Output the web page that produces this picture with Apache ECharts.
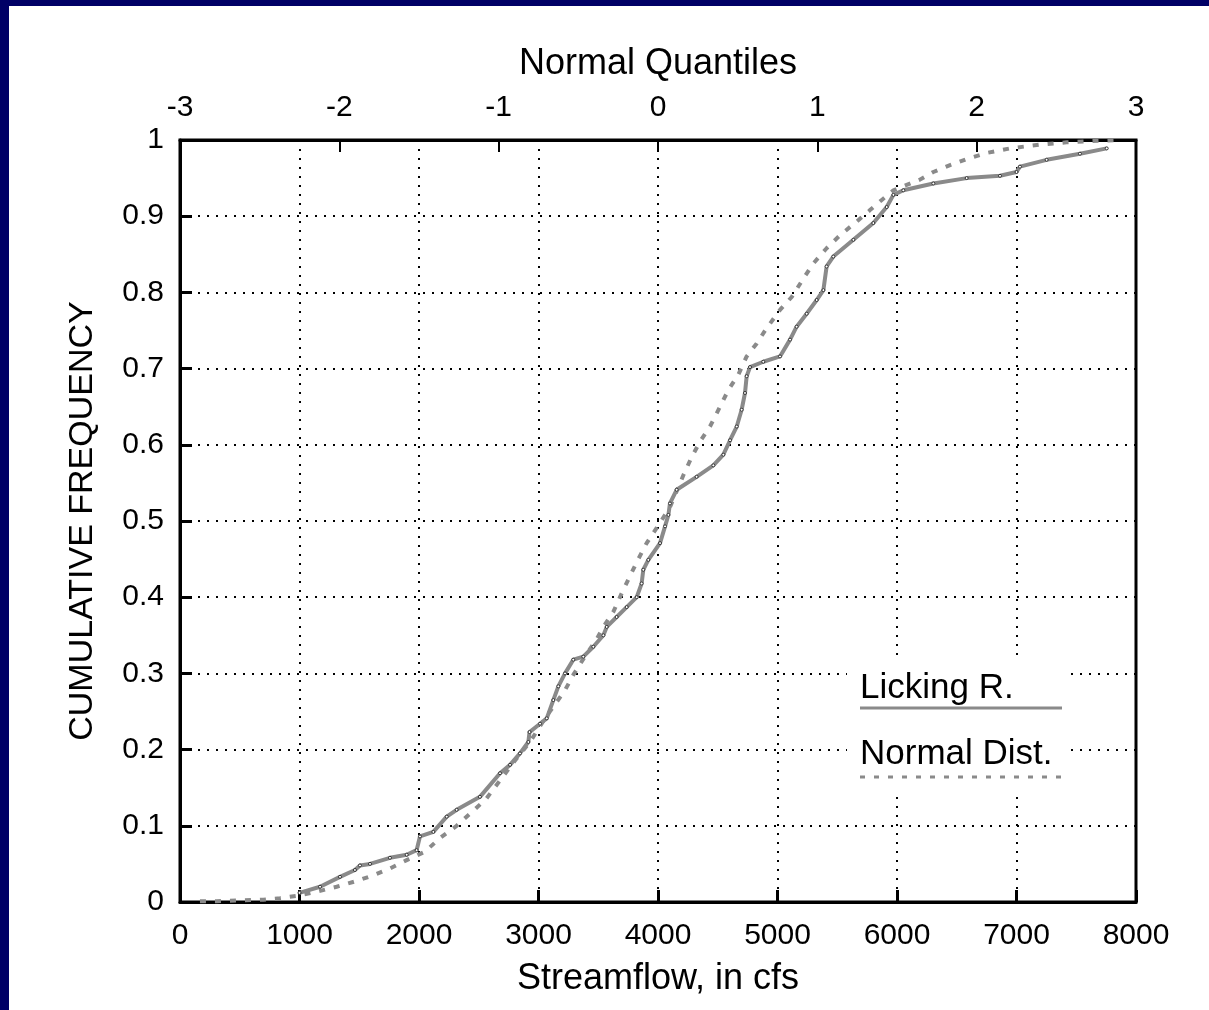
<!DOCTYPE html>
<html>
<head>
<meta charset="utf-8">
<script src="https://cdn.jsdelivr.net/npm/echarts@6/dist/echarts.min.js"></script>
<style>
html,body{margin:0;padding:0;background:#000066;width:1209px;height:1010px;overflow:hidden;}
#chart{position:absolute;left:9px;top:6px;width:1200px;height:1004px;background:#ffffff;}
</style>
</head>
<body>
<div id="chart"></div>
<script>
// ---- data ----
const xTickLabels = ['0','1000','2000','3000','4000','5000','6000','7000','8000'];
const yTickLabels = ['0','0.1','0.2','0.3','0.4','0.5','0.6','0.7','0.8','0.9','1'];
const quantileTickLabels = ['-3','-2','-1','0','1','2','3'];

const seriesNames = ['Licking R.', 'Normal Dist.'];

const lickingFlow = [1000,1172,1339,1464,1506,1590,1757,1897,1980,2008,2120,2232,2315,2510,2678,2762,2845,2915,2925,3013,3069,3124,3166,3222,3291,3375,3459,3543,3571,3654,3738,3822,3863,3877,3919,4017,4059,4087,4100,4156,4323,4463,4547,4603,4659,4700,4728,4742,4770,4881,5021,5105,5160,5244,5328,5384,5411,5467,5635,5802,5914,5970,6053,6304,6583,6862,7000,7029,7252,7531,7755];
const lickingFreq = [0.012,0.02,0.033,0.042,0.048,0.05,0.058,0.062,0.068,0.086,0.092,0.112,0.121,0.138,0.169,0.18,0.195,0.21,0.223,0.234,0.241,0.265,0.283,0.30,0.318,0.322,0.335,0.35,0.361,0.374,0.387,0.40,0.418,0.436,0.449,0.471,0.493,0.508,0.523,0.541,0.558,0.573,0.587,0.606,0.624,0.646,0.668,0.69,0.702,0.709,0.716,0.738,0.755,0.772,0.79,0.803,0.834,0.847,0.869,0.891,0.912,0.928,0.934,0.943,0.95,0.953,0.958,0.965,0.974,0.982,0.989];

const normalFlow = [167,307,502,697,837,976,1144,1311,1464,1618,1757,1897,2050,2176,2315,2427,2560,2680,2800,2929,3050,3150,3222,3291,3400,3480,3543,3627,3696,3766,3835,3905,3989,4100,4212,4282,4351,4435,4519,4589,4672,4742,4826,4909,5021,5119,5216,5300,5411,5523,5663,5774,5870,5970,6192,6304,6444,6583,6751,6946,7197,7420,7699,7866];
const normalFreq = [0.001,0.001,0.002,0.003,0.005,0.008,0.0135,0.02,0.027,0.035,0.044,0.055,0.066,0.084,0.1,0.116,0.135,0.16,0.185,0.21,0.24,0.262,0.278,0.298,0.325,0.343,0.361,0.381,0.405,0.428,0.45,0.471,0.491,0.518,0.56,0.584,0.604,0.624,0.65,0.672,0.692,0.716,0.733,0.753,0.777,0.794,0.818,0.838,0.858,0.875,0.893,0.908,0.921,0.934,0.948,0.958,0.967,0.975,0.983,0.989,0.994,0.997,0.999,1.0];

const pair = (xs, ys) => xs.map((x, i) => [x, ys[i]]);

const FONT = '"Liberation Sans", Arial, Helvetica, sans-serif';
const GRAY = '#8a8a8a';

const chart = echarts.init(document.getElementById('chart'), null, {renderer: 'canvas'});
const gridLeft = 171, gridRight = 73, gridTop = 134, gridBottom = 108;

chart.setOption({
  animation: false,
  backgroundColor: '#ffffff',
  textStyle: {fontFamily: FONT, color: '#000'},
  grid: {left: gridLeft, right: gridRight, top: gridTop, bottom: gridBottom,
         show: true, borderColor: '#000', borderWidth: 3, backgroundColor: 'transparent'},
  xAxis: [
    {
      type: 'value', position: 'bottom', min: 0, max: 8000, interval: 1000,
      name: 'Streamflow, in cfs', nameLocation: 'middle', nameGap: 59,
      nameTextStyle: {fontSize: 36, fontFamily: FONT, color: '#000'},
      axisLine: {show: true, onZero: false, lineStyle: {color: '#000', width: 3}},
      axisTick: {show: true, inside: true, length: 12, lineStyle: {color: '#000', width: 3}},
      axisLabel: {fontSize: 30, fontFamily: FONT, color: '#000', margin: 19,
                  formatter: v => xTickLabels[Math.round(v / 1000)]},
      splitLine: {show: true, lineStyle: {color: '#000', width: 2, type: [2, 7]}}
    },
    {
      type: 'value', position: 'top', min: -3, max: 3, interval: 1,
      name: 'Normal Quantiles', nameLocation: 'middle', nameGap: 58,
      nameTextStyle: {fontSize: 36, fontFamily: FONT, color: '#000'},
      axisLine: {show: true, onZero: false, lineStyle: {color: '#000', width: 3}},
      axisTick: {show: true, inside: true, length: 12, lineStyle: {color: '#000', width: 2}},
      axisLabel: {fontSize: 30, fontFamily: FONT, color: '#000', margin: 17,
                  formatter: v => quantileTickLabels[Math.round(v + 3)]},
      splitLine: {show: false}
    }
  ],
  yAxis: [
    {
      type: 'value', min: 0, max: 1, interval: 0.1,
      name: 'CUMULATIVE FREQUENCY', nameLocation: 'middle', nameGap: 80,
      nameTextStyle: {fontSize: 34, fontFamily: FONT, color: '#000'},
      axisLine: {show: true, onZero: false, lineStyle: {color: '#000', width: 3}},
      axisTick: {show: true, inside: true, length: 12, lineStyle: {color: '#000', width: 3}},
      axisLabel: {fontSize: 30, fontFamily: FONT, color: '#000', margin: 16,
                  formatter: v => yTickLabels[Math.round(v * 10)]},
      splitLine: {show: true, lineStyle: {color: '#000', width: 2, type: [2, 7]}}
    }
  ],
  series: [
    {
      name: seriesNames[0], type: 'line', xAxisIndex: 0, yAxisIndex: 0,
      data: pair(lickingFlow, lickingFreq),
      symbol: 'circle', symbolSize: 3, showSymbol: true,
      itemStyle: {color: '#ffffff', borderColor: '#333', borderWidth: 1},
      lineStyle: {color: GRAY, width: 4},
      z: 3
    },
    {
      name: seriesNames[1], type: 'line', xAxisIndex: 0, yAxisIndex: 0,
      data: pair(normalFlow, normalFreq),
      symbol: 'none',
      lineStyle: {color: GRAY, width: 4, type: [6, 9]},
      z: 2
    }
  ],
  graphic: [
    {type: 'rect', left: 838, top: 654, shape: {width: 220, height: 134}, style: {fill: '#fff'}, z: 10},
    {type: 'text', x: 851, y: 682, style: {text: seriesNames[0], font: '35px ' + FONT, fill: '#000', textVerticalAlign: 'middle'}, z: 11},
    {type: 'line', shape: {x1: 851, y1: 702, x2: 1053, y2: 702}, style: {stroke: GRAY, lineWidth: 3}, z: 11},
    {type: 'text', x: 851, y: 748, style: {text: seriesNames[1], font: '35px ' + FONT, fill: '#000', textVerticalAlign: 'middle'}, z: 11},
    {type: 'line', shape: {x1: 851, y1: 771, x2: 1053, y2: 771}, style: {stroke: GRAY, lineWidth: 3, lineDash: [5, 9]}, z: 11}
  ]
});
</script>
</body>
</html>
